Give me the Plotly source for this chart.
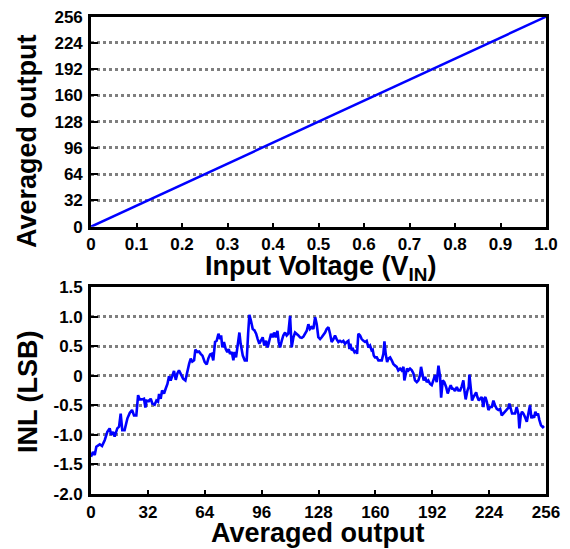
import plotly.graph_objects as go

# ---- Top chart data: transfer curve ----
vin = [0.0, 0.1, 0.2, 0.3, 0.4, 0.5, 0.6, 0.7, 0.8, 0.9, 1.0]
avg_out = [0.0, 25.6, 51.2, 76.8, 102.4, 128.0, 153.6, 179.2, 204.8, 230.4, 256.0]

# ---- Bottom chart data: INL vs averaged output code ----
inl_code = [
    0.0, 1.1, 2.1, 3.0, 4.9, 6.2, 7.7, 9.2, 10.5, 11.4, 12.4, 13.3, 14.8, 15.8, 16.7, 17.6, 18.9,
    20.5, 21.8, 23.1, 24.2, 25.5, 26.5, 27.4, 28.7, 29.8, 30.6, 31.3, 32.5, 33.6, 34.5, 35.8,
    36.8, 37.7, 38.3, 39.2, 40.0, 41.1, 42.0, 43.0, 43.9, 44.8, 45.8, 46.7, 47.7, 48.6, 49.5,
    50.5, 51.8, 53.1, 54.0, 55.2, 56.1, 57.0, 58.0, 58.7, 59.8, 60.8, 61.7, 62.7, 64.0, 65.1,
    66.0, 67.0, 67.9, 68.8, 69.8, 70.7, 71.7, 72.6, 73.2, 73.9, 74.8, 75.8, 76.7, 77.5, 78.2,
    79.2, 80.1, 80.8, 81.6, 82.3, 83.1, 83.5, 84.2, 85.4, 86.5, 87.6, 88.4, 89.1, 90.0, 91.0,
    91.9, 92.9, 93.8, 94.7, 95.7, 96.6, 97.5, 98.5, 99.4, 100.4, 101.3, 102.2, 103.0, 103.9,
    104.9, 105.6, 106.4, 107.3, 108.2, 109.2, 110.1, 111.0, 112.0, 112.9, 113.9, 114.8, 115.7,
    116.7, 117.6, 118.6, 119.5, 120.4, 121.4, 122.3, 123.2, 124.2, 125.1, 126.1, 127.0, 127.9,
    128.9, 129.8, 130.7, 131.7, 132.6, 133.6, 134.5, 135.4, 136.4, 137.3, 138.2, 139.2, 140.1,
    141.1, 142.0, 142.9, 143.9, 144.8, 145.4, 145.9, 146.7, 147.4, 148.2, 148.9, 149.7, 150.4,
    151.4, 152.3, 153.3, 154.2, 155.1, 156.1, 157.0, 157.9, 158.5, 159.1, 159.8, 160.8, 161.7,
    162.6, 163.6, 164.5, 165.1, 165.8, 166.6, 167.3, 168.3, 169.2, 170.1, 171.1, 172.0, 172.9,
    173.9, 174.8, 175.8, 176.3, 177.1, 177.8, 178.6, 179.5, 180.5, 181.4, 182.3, 183.3, 184.2,
    185.1, 185.7, 186.5, 187.2, 188.0, 188.9, 189.8, 190.8, 191.7, 192.6, 193.6, 194.5, 195.5,
    196.4, 197.0, 197.9, 198.8, 199.8, 200.7, 201.6, 202.4, 203.2, 203.9, 204.8, 205.8, 206.7,
    207.7, 208.6, 209.5, 210.1, 210.8, 211.8, 212.5, 212.9, 213.7, 214.4, 215.2, 215.9, 216.7,
    217.4, 218.2, 218.9, 219.8, 220.8, 221.3, 221.9, 222.7, 223.6, 224.5, 225.5, 226.4, 227.3,
    228.3, 229.2, 230.2, 231.1, 232.0, 233.0, 233.9, 234.9, 235.4, 236.2, 236.9, 237.7, 238.6,
    239.5, 240.5, 241.0, 241.8, 242.5, 243.3, 244.2, 245.2, 246.1, 247.0, 247.8, 248.5, 249.3,
    250.0, 250.8, 251.5, 252.3, 253.2, 254.2, 254.9,
]
inl_lsb = [
    -1.37, -1.29, -1.34, -1.20, -1.16, -1.19, -1.09, -0.95, -0.89, -1.00, -0.95, -1.03, -0.89, -0.86, -0.64, -0.92, -0.92,
    -0.72, -0.63, -0.58, -0.67, -0.67, -0.33, -0.40, -0.40, -0.39, -0.54, -0.42, -0.43, -0.39, -0.47, -0.49,
    -0.42, -0.44, -0.31, -0.39, -0.25, -0.30, -0.22, -0.14, -0.01, -0.08, 0.00, 0.08, -0.07, 0.04, 0.09,
    0.02, -0.05, -0.08, 0.06, 0.20, 0.29, 0.24, 0.26, 0.44, 0.40, 0.41, 0.37, 0.34, 0.23, 0.19,
    0.29, 0.36, 0.37, 0.26, 0.57, 0.59, 0.71, 0.62, 0.68, 0.48, 0.57, 0.45, 0.40, 0.45, 0.37,
    0.40, 0.26, 0.40, 0.31, 0.48, 0.59, 0.73, 0.54, 0.34, 0.26, 0.26, 0.71, 1.03, 0.93, 0.79,
    0.77, 0.71, 0.62, 0.54, 0.60, 0.65, 0.51, 0.59, 0.48, 0.62, 0.71, 0.65, 0.73, 0.65,
    0.76, 0.57, 0.48, 0.59, 0.68, 0.73, 0.68, 0.71, 1.01, 0.48, 0.65, 0.73, 0.71,
    0.68, 0.65, 0.64, 0.66, 0.71, 0.76, 0.87, 0.79, 0.82, 0.79, 0.99, 0.87, 0.65,
    0.62, 0.65, 0.68, 0.73, 0.79, 0.82, 0.71, 0.57, 0.62, 0.68, 0.62, 0.57, 0.59,
    0.57, 0.59, 0.54, 0.57, 0.59, 0.45, 0.54, 0.43, 0.45, 0.40, 0.43, 0.37, 0.71,
    0.68, 0.62, 0.59, 0.57, 0.59, 0.48, 0.51, 0.43, 0.44, 0.34, 0.31, 0.31, 0.26,
    0.26, 0.26, 0.37, 0.58, 0.37, 0.23, 0.29, 0.31, 0.26, 0.20, 0.17, 0.15, 0.09,
    0.12, 0.09, 0.15, -0.08, 0.06, 0.12, 0.09, 0.12, 0.09, 0.04, -0.08, -0.11, -0.08,
    0.01, 0.15, 0.03, -0.08, -0.02, -0.11, -0.08, -0.14, -0.16, -0.08, 0.01, -0.11, 0.17,
    -0.02, -0.37, -0.08, -0.11, -0.19, -0.30, -0.22, -0.16, -0.22, -0.22, -0.26, -0.19, -0.25,
    -0.25, -0.18, -0.08, -0.25, -0.40, -0.25, -0.19, 0.02, -0.25, -0.42, -0.36, -0.33, -0.28,
    -0.36, -0.42, -0.39, -0.36, -0.53, -0.39, -0.36, -0.44, -0.58, -0.53, -0.53, -0.42, -0.50,
    -0.56, -0.58, -0.56, -0.67, -0.64, -0.61, -0.58, -0.54, -0.47, -0.58, -0.64, -0.64, -0.64,
    -0.53, -0.65, -0.89, -0.67, -0.61, -0.64, -0.70, -0.78, -0.64, -0.50, -0.72, -0.67, -0.71,
    -0.61, -0.67, -0.64, -0.75, -0.84, -0.87, -0.85,
]

top_x_ticks = [0.0, 0.1, 0.2, 0.3, 0.4, 0.5, 0.6, 0.7, 0.8, 0.9, 1.0]
top_x_labels = ["0", "0.1", "0.2", "0.3", "0.4", "0.5", "0.6", "0.7", "0.8", "0.9", "1.0"]
top_y_ticks = [0, 32, 64, 96, 128, 160, 192, 224, 256]
bot_x_ticks = [0, 32, 64, 96, 128, 160, 192, 224, 256]
bot_y_ticks = [-2.0, -1.5, -1.0, -0.5, 0.0, 0.5, 1.0, 1.5]
bot_y_labels = ["-2.0", "-1.5", "-1.0", "-0.5", "0", "0.5", "1.0", "1.5"]

W, H = 570, 549
FONT = "Liberation Sans, Arial, sans-serif"
tickfont = dict(family=FONT, size=17, color="black", weight="bold")
titlefont = dict(family=FONT, size=27, color="black", weight="bold")

fig = go.Figure()
fig.add_trace(go.Scatter(x=vin, y=avg_out, mode="lines",
                         line=dict(color="#0000FF", width=2.5), xaxis="x", yaxis="y",
                         showlegend=False))
fig.add_trace(go.Scatter(x=inl_code, y=inl_lsb, mode="lines",
                         line=dict(color="#0000FF", width=2.6), xaxis="x2", yaxis="y2",
                         showlegend=False))

x0, x1 = 91 / W, 546 / W
top_dom = [1 - 226.7 / H, 1 - 16.7 / H]
bot_dom = [1 - 494 / H, 1 - 287 / H]

common_axis = dict(showline=True, linecolor="black", linewidth=2.6, mirror=True,
                   ticks="inside", tickcolor="black", tickwidth=2,
                   tickfont=tickfont, zeroline=False, automargin=False)
grid = dict(showgrid=True, gridcolor="#7f7f7f", gridwidth=2.5, griddash="dot")

fig.update_layout(
    width=W, height=H,
    margin=dict(l=0, r=0, t=0, b=0),
    paper_bgcolor="white", plot_bgcolor="white",
    xaxis=dict(domain=[x0, x1], anchor="y", range=[0, 1.0],
               tickvals=top_x_ticks, ticktext=top_x_labels, showgrid=False,
               ticklen=4, ticklabelstandoff=0, **common_axis),
    yaxis=dict(domain=top_dom, anchor="x", range=[0, 256],
               tickvals=top_y_ticks, ticklen=7, ticklabelstandoff=2, **grid, **common_axis),
    xaxis2=dict(domain=[x0, x1], anchor="y2", range=[0, 256],
                tickvals=bot_x_ticks, showgrid=False,
                ticklen=4, ticklabelstandoff=1, **common_axis),
    yaxis2=dict(domain=bot_dom, anchor="x2", range=[-2.0, 1.5],
                tickvals=bot_y_ticks, ticktext=bot_y_labels, ticklen=7,
                ticklabelstandoff=2, **grid, **common_axis),
    annotations=[
        dict(text="Averaged output", x=27 / W, y=1 - 141 / H, xref="paper", yref="paper",
             textangle=-90, showarrow=False, font=titlefont, xanchor="center", yanchor="middle"),
        dict(text="Input Voltage (V<sub>IN</sub>)", x=320 / W, y=1 - 268 / H,
             xref="paper", yref="paper", showarrow=False, font=titlefont,
             xanchor="center", yanchor="middle"),
        dict(text="INL (LSB)", x=28 / W, y=1 - 392 / H, xref="paper", yref="paper",
             textangle=-90, showarrow=False, font=titlefont, xanchor="center", yanchor="middle"),
        dict(text="Averaged output", x=318 / W, y=1 - 533 / H,
             xref="paper", yref="paper", showarrow=False, font=titlefont,
             xanchor="center", yanchor="middle"),
    ],
)

fig.write_html("out.html")
